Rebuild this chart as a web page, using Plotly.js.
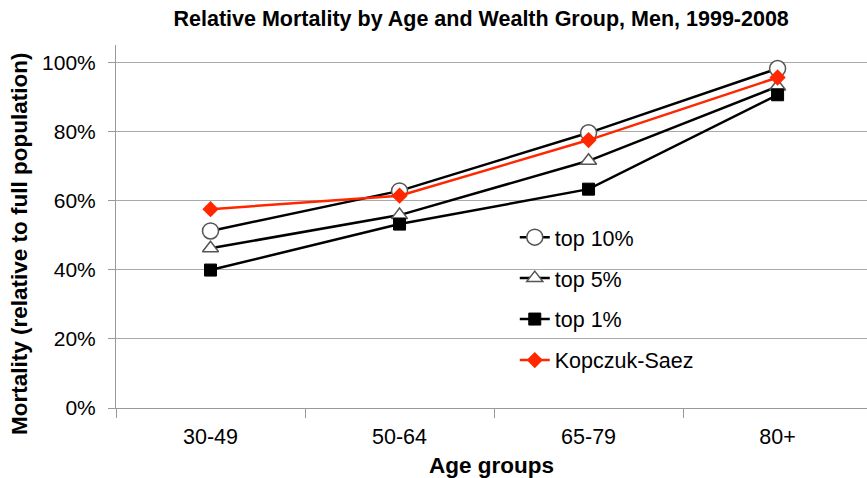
<!DOCTYPE html>
<html><head><meta charset="utf-8">
<script src="https://cdn.plot.ly/plotly-3.0.1.min.js"></script>
<style>body{margin:0;background:#fff}#c{width:867px;height:478px}</style>
</head><body><div id="c"></div>
<script>
const ageGroups = ["30-49", "50-64", "65-79", "80+"];
const top10 = [51.2, 62.8, 79.6, 98.2];
const top5 = [46.2, 55.8, 71.5, 93.0];
const top1 = [39.9, 53.2, 63.3, 90.6];
const kopczukSaez = [57.5, 61.4, 77.5, 95.6];
const yTicks = [0, 20, 40, 60, 80, 100];
const yTickText = yTicks.map(v => v + "%");

const red = "rgb(255,38,0)";
const traces = [
  {name: "top 10%", y: top10, line: {color: "#000", width: 2.5},
   marker: {symbol: "circle", size: 16, color: "#fff", line: {color: "#555", width: 1.5}}},
  {name: "top 5%", y: top5, line: {color: "#000", width: 2.5},
   marker: {symbol: "triangle-up", size: 14, color: "#fff", line: {color: "#555", width: 1.5}}},
  {name: "top 1%", y: top1, line: {color: "#000", width: 2.5},
   marker: {symbol: "square", size: 12, color: "#000", line: {color: "#000", width: 1}}},
  {name: "Kopczuk-Saez", y: kopczukSaez, line: {color: red, width: 2.5},
   marker: {symbol: "diamond", size: 12.5, color: red, line: {color: red, width: 0}}}
].map((t, i) => Object.assign({x: ageGroups, type: "scatter", mode: "lines+markers",
  legendgroup: "g" + i, cliponaxis: false}, t));

const layout = {
  width: 867, height: 478,
  margin: {l: 116, r: 0, t: 45, b: 70},
  paper_bgcolor: "#fff", plot_bgcolor: "#fff",
  font: {family: "Liberation Sans, Arial, sans-serif", color: "#000", size: 21},
  title: {text: "<b>Relative Mortality by Age and Wealth Group, Men, 1999-2008</b>",
    x: 0.555, xanchor: "center", y: 0.962, yanchor: "middle",
    font: {size: 21.5, color: "#000"}},
  xaxis: {type: "category", range: [-0.5, 3.473], showgrid: false,
    showline: true, linecolor: "#999", linewidth: 1,
    ticks: "outside", tickson: "boundaries", ticklen: 9, tickcolor: "#999",
    ticklabelstandoff: 9,
    tickfont: {size: 21.5}, zeroline: false,
    title: {text: "<b>Age groups</b>", font: {size: 22.5}, standoff: 9}},
  yaxis: {range: [0, 105], tickvals: yTicks, ticktext: yTickText,
    showgrid: true, gridcolor: "#aaa", gridwidth: 1,
    showline: true, linecolor: "#999", linewidth: 1,
    ticks: "outside", ticklen: 7, tickcolor: "#999",
    ticklabelstandoff: 8,
    tickfont: {size: 21}, zeroline: false},
  annotations: [{text: "<b>Mortality (relative to full population)</b>",
    xref: "paper", yref: "paper", x: -0.1278, y: 0.452, textangle: -90,
    xanchor: "center", yanchor: "middle", showarrow: false,
    font: {size: 22.5, color: "#000"}}],
  legend: {x: 0.531, y: 0.527, xanchor: "left", yanchor: "top",
    bgcolor: "rgba(0,0,0,0)", traceorder: "grouped", tracegroupgap: 10,
    itemwidth: 30, font: {size: 21.5}},
  showlegend: true
};
Plotly.newPlot("c", traces, layout, {displayModeBar: false, staticPlot: true});
</script></body></html>
